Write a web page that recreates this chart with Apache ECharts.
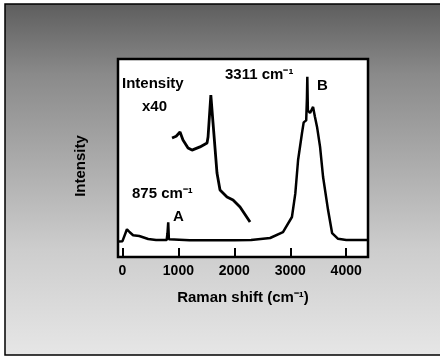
<!DOCTYPE html>
<html>
<head>
<meta charset="utf-8">
<script src="https://cdn.jsdelivr.net/npm/echarts@6/dist/echarts.min.js"></script>
<style>
  body { margin: 0; background: #fff; }
  #chart { width: 440px; height: 357px; }
</style>
</head>
<body>
<div id="chart"></div>
<script>
// Main Raman spectrum
const mainShift = [-80, 0, 80, 130, 190, 300, 460, 600, 790, 805, 818, 830, 850, 1200, 2000, 2300, 2640, 2870, 3030, 3090, 3140, 3210, 3240, 3285, 3298, 3305, 3315, 3354, 3380, 3408, 3440, 3479, 3533, 3587, 3676, 3748, 3855, 4000, 4390];
const mainIntensity = [7.8, 8, 14, 12.5, 11, 10.6, 9.1, 8.6, 8.6, 12, 17.5, 9, 8.6, 8.5, 8.5, 8.6, 9.6, 12.6, 20.2, 32, 49, 62.6, 68, 69, 80, 91, 74, 72.7, 72, 75.8, 71, 65.7, 55.6, 40.4, 23.7, 12.1, 9.2, 8.6, 8.6];

// Magnified part (intensity x40)
const insetShift = [886, 960, 1029, 1082, 1172, 1243, 1386, 1512, 1530, 1580, 1619, 1690, 1744, 1869, 1977, 2102, 2281];
const insetIntensity = [60.1, 61, 63.1, 59.1, 55.1, 54.0, 55.6, 57.6, 60.6, 81.8, 67.7, 42.4, 33.8, 30.3, 28.8, 25.3, 17.7];

const xTicks = [0, 1000, 2000, 3000, 4000];

const font = '"Liberation Sans", Arial, sans-serif';

const chart = echarts.init(document.getElementById('chart'));

const option = {
  animation: false,
  backgroundColor: '#fff',
  graphic: [
    {
      type: 'rect',
      z: -10,
      shape: { x: 5, y: 4, width: 520, height: 351 },
      style: {
        fill: {
          type: 'linear', x: 0, y: 0, x2: 0, y2: 1,
          colorStops: [
            { offset: 0, color: '#5e5e5e' },
            { offset: 0.2, color: '#8a8a8a' },
            { offset: 0.45, color: '#ababab' },
            { offset: 0.7, color: '#cdcdcd' },
            { offset: 1, color: '#e6e6e6' }
          ]
        }
      }
    },
    // outer frame, open on the right like the scan
    {
      type: 'polyline',
      z: -9,
      shape: { points: [[520, 4], [5, 4], [5, 355], [520, 355]] },
      style: { stroke: '#000', lineWidth: 1.5, fill: null }
    },
    // annotations
    { type: 'text', z: 100, left: 122, top: 76, style: { text: 'Intensity', font: 'bold 15px ' + font, fill: '#000' } },
    { type: 'text', z: 100, left: 142, top: 99, style: { text: 'x40', font: 'bold 15px ' + font, fill: '#000' } },
    { type: 'text', z: 100, left: 225, top: 67, style: { text: '3311 cm⁻¹', font: 'bold 15px ' + font, fill: '#000' } },
    { type: 'text', z: 100, left: 317, top: 78, style: { text: 'B', font: 'bold 15px ' + font, fill: '#000' } },
    { type: 'text', z: 100, left: 132, top: 186, style: { text: '875 cm⁻¹', font: 'bold 15px ' + font, fill: '#000' } },
    { type: 'text', z: 100, left: 173, top: 209, style: { text: 'A', font: 'bold 15px ' + font, fill: '#000' } }
  ],
  grid: {
    left: 118,
    right: 72,
    top: 59,
    bottom: 100,
    show: true,
    backgroundColor: '#fff',
    borderColor: '#000',
    borderWidth: 2.5
  },
  xAxis: {
    type: 'value',
    min: -80,
    max: 4390,
    name: 'Raman shift (cm⁻¹)',
    nameLocation: 'middle',
    nameGap: 33,
    nameTextStyle: { fontFamily: font, fontWeight: 'bold', fontSize: 15, color: '#000' },
    axisLine: { show: false },
    axisTick: { show: true, inside: true, length: 9, customValues: xTicks, lineStyle: { color: '#000', width: 2 } },
    axisLabel: {
      customValues: xTicks,
      formatter: v => String(v),
      margin: 7, fontFamily: font, fontWeight: 'bold', fontSize: 14, color: '#000'
    },
    splitLine: { show: false }
  },
  yAxis: {
    type: 'value',
    min: 0,
    max: 100,
    name: 'Intensity',
    nameLocation: 'middle',
    nameGap: 30,
    nameTextStyle: { fontFamily: font, fontWeight: 'bold', fontSize: 15, color: '#000', padding: [0, 16, 0, 0] },
    axisLine: { show: false },
    axisTick: { show: false },
    axisLabel: { show: false },
    splitLine: { show: false }
  },
  series: [
    {
      name: 'Spectrum',
      type: 'line',
      data: mainShift.map((x, i) => [x, mainIntensity[i]]),
      showSymbol: false,
      lineStyle: { color: '#000', width: 2.5 }
    },
    {
      name: 'x40',
      type: 'line',
      data: insetShift.map((x, i) => [x, insetIntensity[i]]),
      showSymbol: false,
      lineStyle: { color: '#000', width: 2.8 }
    }
  ]
};

chart.setOption(option);
</script>
</body>
</html>
